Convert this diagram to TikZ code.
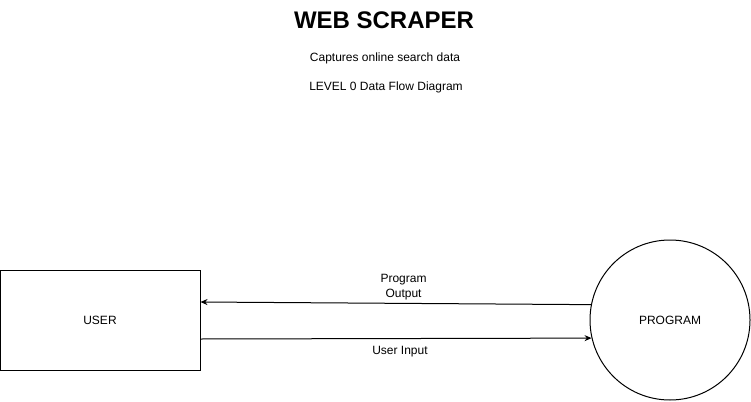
\documentclass[tikz,border=0pt]{standalone}
\usepackage{fontspec}
\setmainfont{Liberation Sans}
\usetikzlibrary{arrows.meta}
\begin{document}
\begin{tikzpicture}[x=1pt,y=-1pt,>={Stealth[length=7pt,width=6pt]},line width=1pt,
    entity node/.style={rectangle,draw,minimum width=200pt,minimum height=100pt,font=\fontsize{12}{14}\selectfont},
    process node/.style={circle,draw,minimum size=160pt,inner sep=0pt,font=\fontsize{12}{14}\selectfont},
    flow label/.style={font=\fontsize{12}{15}\selectfont,align=center,inner sep=3pt}]
                \useasboundingbox (0,0) rectangle (751,401);
                \node[font=\bfseries\fontsize{24}{28}\selectfont] at (384, 20) (title) {WEB SCRAPER};
                \node[flow label] at (385, 58) (sub) {Captures online search data};
                \node[flow label] at (386, 87) (level) {LEVEL 0 Data Flow Diagram};

                \node[entity node] at (100, 320) (user) {USER};
                \node[process node] at (670, 320) (prog) {PROGRAM};

                \path[->] (prog.169) edge node[flow label,above,pos=0.48] {Program\\Output} ([yshift=18pt]user.east);
                \path[->] ([yshift=-19pt]user.east) edge node[flow label,below,pos=0.51,yshift=-4pt] {User Input} (prog.193.7);
            \end{tikzpicture}
\end{document}
